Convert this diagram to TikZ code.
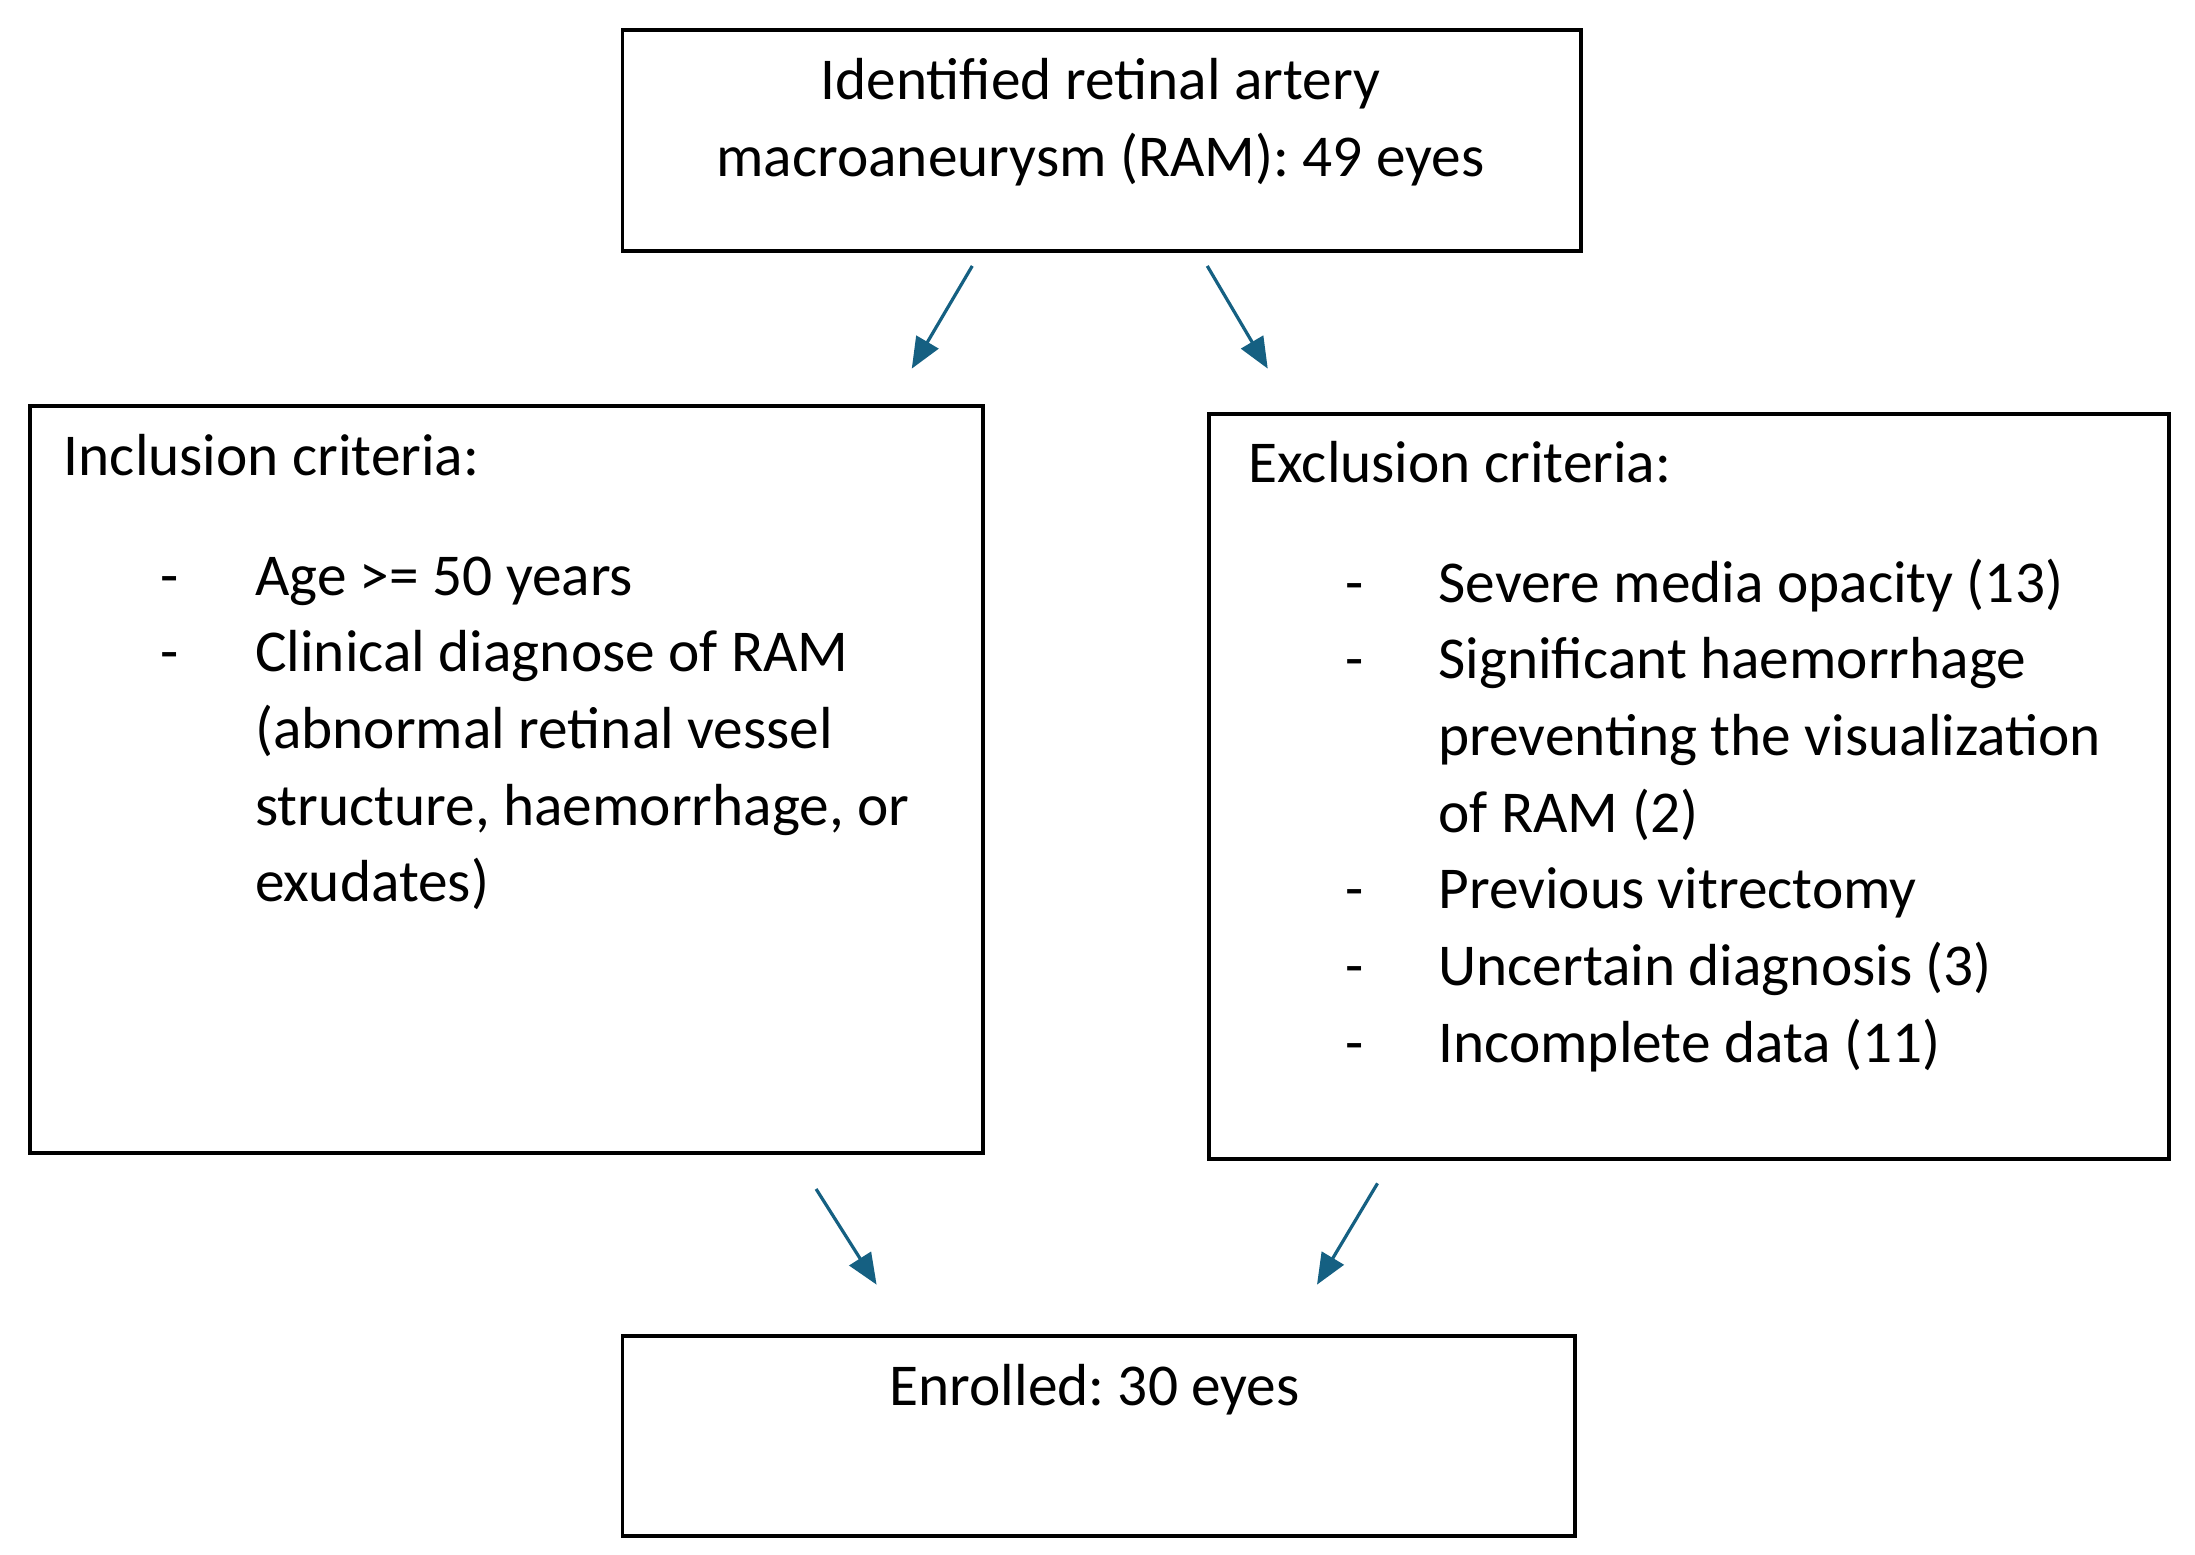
\documentclass[tikz,border=0pt]{standalone}
\usepackage{fontspec}
\setmainfont{Carlito}
\usetikzlibrary{arrows.meta}
\definecolor{arrowblue}{HTML}{156082}
\frenchspacing

\begin{document}
\begin{tikzpicture}[
    box/.style={draw, line width=1.6pt, inner sep=0pt, anchor=north west},
    txt/.style={font=\fontsize{24}{31}\selectfont, inner sep=0pt},
    arr/.style={draw=arrowblue, line width=1.3pt, -{Triangle[length=0.44cm, width=0.36cm]}}
  ]
    \useasboundingbox (0,0) rectangle (31.2,-22.1);
    % boxes
    \node [box, minimum width=13.62cm, minimum height=3.14cm] (found) at (8.82,-0.4) {};
    \node [box, minimum width=13.54cm, minimum height=10.62cm] (incl) at (0.4,-5.74) {};
    \node [box, minimum width=13.64cm, minimum height=10.58cm] (excl) at (17.16,-5.86) {};
    \node [box, minimum width=13.54cm, minimum height=2.84cm] (enrol) at (8.82,-18.96) {};
    % texts
    \node [txt, anchor=base] (foundtxt) at (15.64,-1.42) {\begin{tabular}[t]{@{}c@{}}Identified retinal artery\\ macroaneurysm (RAM): 49 eyes\end{tabular}};
    \node [txt, anchor=base west] (inclhead) at (0.9,-6.76) {Inclusion criteria:};
    \node [txt, anchor=base west] (incllist) at (2.28,-8.46) {\begin{tabular}[t]{@{}p{1.34cm}@{}l@{}}
      - & Age >= 50 years\\
      - & Clinical diagnose of RAM\\
        & (abnormal retinal vessel\\
        & structure, haemorrhage, or\\
        & exudates)
    \end{tabular}};
    \node [txt, anchor=base west] (exclhead) at (17.74,-6.86) {Exclusion criteria:};
    \node [txt, anchor=base west] (excllist) at (19.12,-8.56) {\begin{tabular}[t]{@{}p{1.32cm}@{}l@{}}
      - & Severe media opacity (13)\\
      - & Significant haemorrhage\\
        & preventing the visualization\\
        & of RAM (2)\\
      - & Previous vitrectomy\\
      - & Uncertain diagnosis (3)\\
      - & Incomplete data (11)
    \end{tabular}};
    \node [txt, anchor=base] (enroltxt) at (15.56,-19.98) {Enrolled: 30 eyes};
    % arrows
    \coordinate (a1s) at (13.82,-3.78);
    \coordinate (a1e) at (12.96,-5.24);
    \coordinate (a2s) at (17.16,-3.78);
    \coordinate (a2e) at (18.02,-5.24);
    \coordinate (a3s) at (11.6,-16.9);
    \coordinate (a3e) at (12.46,-18.26);
    \coordinate (a4s) at (19.58,-16.82);
    \coordinate (a4e) at (18.72,-18.26);
    \draw [arr] (a1s) -- (a1e);
    \draw [arr] (a2s) -- (a2e);
    \draw [arr] (a3s) -- (a3e);
    \draw [arr] (a4s) -- (a4e);
  \end{tikzpicture}
\end{document}
